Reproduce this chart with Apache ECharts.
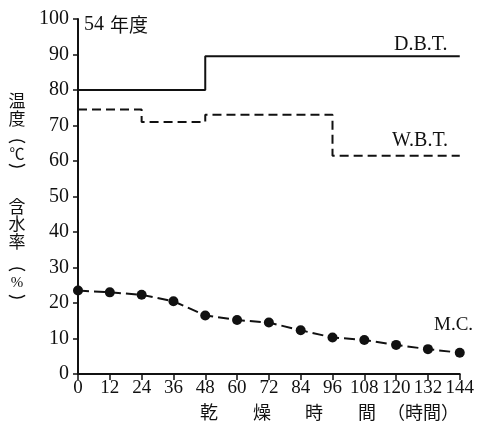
<!DOCTYPE html>
<html>
<head>
<meta charset="utf-8">
<script src="https://cdn.jsdelivr.net/npm/echarts@6/dist/echarts.min.js"></script>
<style>
  html, body { margin: 0; padding: 0; background: #fff; }
  #chart { width: 477px; height: 430px; }
</style>
</head>
<body>
<div id="chart"></div>
<script>
// drying time (hours)
const hours = [0, 12, 24, 36, 48, 60, 72, 84, 96, 108, 120, 132, 144];
// moisture content (%) at each hour
const mc = [23.5, 23, 22.3, 20.5, 16.5, 15.2, 14.5, 12.3, 10.3, 9.6, 8.2, 7, 6];
// dry bulb temperature steps
const dbtHours = [0, 48, 144];
const dbt = [80, 89.5, 89.5];
// wet bulb temperature steps
const wbtHours = [0, 24, 48, 96, 144];
const wbt = [74.5, 71, 73, 61.5, 61.5];

const serif = '"Liberation Serif", "DejaVu Serif", serif';
const cjk = '"Noto Sans CJK JP", "Noto Sans CJK SC", sans-serif';
const ink = '#111';

const chart = echarts.init(document.getElementById('chart'));

const zip = (xs, ys) => xs.map((x, i) => [x, ys[i]]);

function glyph(x, y, ch, font) {
  return {
    type: 'text', x: x, y: y,
    style: { text: ch, font: font, fill: ink, align: 'center', verticalAlign: 'middle' }
  };
}

// vertical bracket drawn as a shallow arc; up = opening bracket
function bracket(x, y, up) {
  const r = 14, a = 0.62;
  return {
    type: 'arc',
    shape: up
      ? { cx: x, cy: y + r, r: r, startAngle: Math.PI * 1.5 - a, endAngle: Math.PI * 1.5 + a, clockwise: true }
      : { cx: x, cy: y - r, r: r, startAngle: Math.PI * 0.5 - a, endAngle: Math.PI * 0.5 + a, clockwise: true },
    style: { stroke: ink, lineWidth: 1.3, fill: null }
  };
}

const yName = [
  glyph(17, 101, '温', '17px ' + cjk),
  glyph(17, 119, '度', '17px ' + cjk),
  bracket(17, 140, true),
  glyph(17, 153, '℃', '15px ' + cjk),
  bracket(17, 167, false),
  glyph(17, 207, '含', '17px ' + cjk),
  glyph(17, 224, '水', '17px ' + cjk),
  glyph(17, 242, '率', '17px ' + cjk),
  bracket(17, 268, true),
  glyph(17, 283, '%', '15px ' + serif),
  bracket(17, 298, false)
];

const xName = [
  glyph(209, 412, '乾', '18px ' + cjk),
  glyph(262, 412, '燥', '18px ' + cjk),
  glyph(314, 412, '時', '18px ' + cjk),
  glyph(367, 412, '間', '18px ' + cjk),
  glyph(423, 412, '（時間）', '18px ' + cjk)
];

chart.setOption({
  animation: false,
  backgroundColor: '#fff',
  grid: { left: 78, right: 17, top: 19, bottom: 56 },
  xAxis: {
    type: 'value', min: 0, max: 144, interval: 12,
    axisLine: { show: true, lineStyle: { color: ink, width: 2 } },
    axisTick: { show: true, inside: false, length: 6, lineStyle: { color: ink, width: 1.5 } },
    axisLabel: { color: ink, fontFamily: serif, fontSize: 19, margin: 5 },
    splitLine: { show: false }
  },
  yAxis: {
    type: 'value', min: 0, max: 100, interval: 10,
    axisLine: { show: true, lineStyle: { color: ink, width: 2 } },
    axisTick: { show: true, inside: false, length: 5, lineStyle: { color: ink, width: 1.5 } },
    axisLabel: { color: ink, fontFamily: serif, fontSize: 20, margin: 9 },
    splitLine: { show: false }
  },
  series: [
    {
      name: 'D.B.T.', type: 'line', step: 'end', data: zip(dbtHours, dbt),
      symbol: 'none', lineStyle: { color: ink, width: 2 }
    },
    {
      name: 'W.B.T.', type: 'line', step: 'end', data: zip(wbtHours, wbt),
      symbol: 'none', lineStyle: { color: ink, width: 2, type: [9, 5] }
    },
    {
      name: 'M.C.', type: 'line', data: zip(hours, mc),
      symbol: 'circle', symbolSize: 10,
      itemStyle: { color: ink },
      lineStyle: { color: ink, width: 2, type: [11, 5] }
    }
  ],
  graphic: [
    { type: 'text', left: 84, top: 15, style: { text: '54', font: '20px ' + serif, fill: ink } },
    { type: 'text', left: 110, top: 15, style: { text: '年度', font: '19px ' + cjk, fill: ink } },
    { type: 'text', left: 394, top: 35, style: { text: 'D.B.T.', font: '20px ' + serif, fill: ink } },
    { type: 'text', left: 392, top: 131, style: { text: 'W.B.T.', font: '20px ' + serif, fill: ink } },
    { type: 'text', left: 434, top: 316, style: { text: 'M.C.', font: '19px ' + serif, fill: ink } }
  ].concat(yName, xName)
});
</script>
</body>
</html>
